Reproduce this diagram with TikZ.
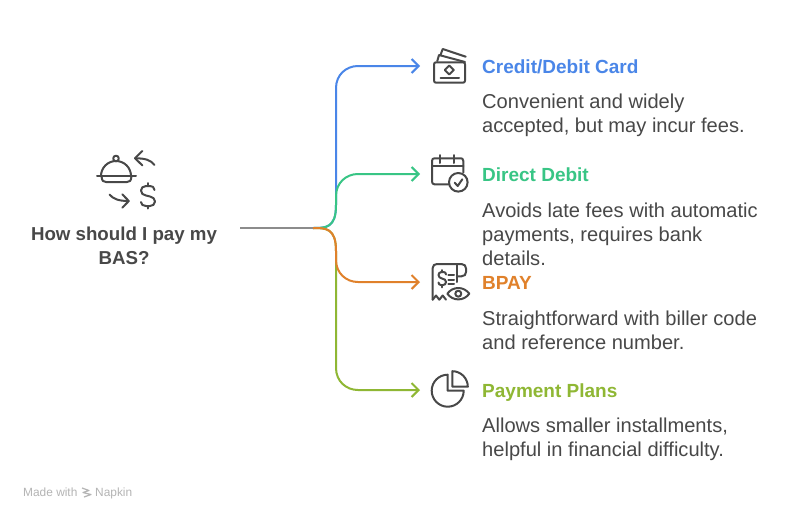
\documentclass[tikz,border=0pt]{standalone}
\usepackage{fontspec}
\setmainfont{Liberation Sans}
\usetikzlibrary{arrows.meta}
\definecolor{cblue}{HTML}{4A86E8}
\definecolor{cgreen}{HTML}{38C585}
\definecolor{corange}{HTML}{E0812B}
\definecolor{clime}{HTML}{8FB734}
\definecolor{cgray}{HTML}{8C8C8C}
\definecolor{cink}{HTML}{484848}
\definecolor{cmark}{HTML}{B4B4B4}
\tikzset{
  link/.style={line width=2pt,-{Straight Barb[length=7pt,width=14pt,line width=2pt]}},
  icon/.style={draw=cink,line width=2pt,line cap=round,line join=round},
  heading/.style={anchor=base west,inner sep=0pt,font=\fontsize{19}{24}\selectfont\bfseries},
  body/.style={anchor=west,inner sep=0pt,align=left,text=cink,font=\fontsize{20.1}{24}\selectfont},
  rootlabel/.style={anchor=center,inner sep=0pt,align=center,text=cink,font=\fontsize{18.7}{24}\selectfont\bfseries},
  brandmark/.style={anchor=base west,inner sep=0pt,text=cmark,font=\fontsize{11.9}{13}\selectfont}
}
\begin{document}
\begin{tikzpicture}[x=1pt,y=-1pt]
\useasboundingbox (0,0) rectangle (792,520);
\fill[white] (0,0) rectangle (792,520);
% anchors
\coordinate (start) at (240,228);
\coordinate (fork) at (313,228);
\coordinate (upper) at (336,205);
\coordinate (lower) at (336,251);
\coordinate (tcard) at (420,66);
\coordinate (tdebit) at (420,174);
\coordinate (tbpay) at (420,282);
\coordinate (tplan) at (420,390);
% connectors
\draw[link,cblue] (fork) .. controls (326,228) and (upper|-fork) .. (upper) -- (336,88) .. controls (336,75) and (346,66) .. (358,66) -- (tcard);
\draw[link,cgreen] (fork) .. controls (326,228) and (upper|-fork) .. (upper) -- (336,196) .. controls (336,183) and (346,174) .. (358,174) -- (tdebit);
\draw[link,clime] (fork) .. controls (326,228) and (lower|-fork) .. (lower) -- (336,368) .. controls (336,381) and (346,390) .. (358,390) -- (tplan);
\draw[link,corange] (fork) .. controls (326,228) and (lower|-fork) .. (lower) -- (336,260) .. controls (336,273) and (346,282) .. (358,282) -- (tbpay);
\draw[line width=2pt,cgray] (start) -- (fork);
% texts
\node[rootlabel] (root) at (124,246) {How should I pay my\\BAS?};
\node[heading,text=cblue] (h1) at (482,73) {Credit/Debit Card};
\node[body] (b1) at (482,115.5) {Convenient and widely\\accepted, but may incur fees.};
\node[heading,text=cgreen] (h2) at (482,181) {Direct Debit};
\node[body] (b2) at (482,234) {Avoids late fees with automatic\\payments, requires bank\\details.};
\node[heading,text=corange] (h3) at (482,289) {BPAY};
\node[body] (b3) at (482,330) {Straightforward with biller code\\and reference number.};
\node[heading,text=clime] (h4) at (482,397) {Payment Plans};
\node[body] (b4) at (482,439.5) {Allows smaller installments,\\helpful in financial difficulty.};
\node[brandmark] (m1) at (23,496) {Made with};
\node[brandmark] (m2) at (95,496) {Napkin};
\draw[cmark,line width=1.2pt,line join=round] (82,488) -- (89,490.5) -- (83,492.5) -- (91,494.5) -- (84,497);
% root icon
\draw[icon] (97,176) -- (136,176);
\draw[icon] (101,176) arc (180:360:15);
\draw[icon] (116,158.5) circle (2.8);
\draw[icon] (101.5,176) .. controls (102,181) and (103,182) .. (106,182) -- (127,182) .. controls (130,182) and (131,181) .. (131.5,176);
\draw[icon] (154.5,165) .. controls (151,160) and (145,158.3) .. (135.5,158.3);
\draw[icon] (142.3,151) -- (135,158.3) -- (142.3,165.3);
\draw[icon] (109.5,194.5) .. controls (113,199) and (119,201) .. (128.5,201);
\draw[icon] (122.3,194.3) -- (128.8,201) -- (122.3,207.7);
\draw[icon] (154.5,190) .. controls (154.5,187) and (152,186) .. (150,186) -- (146,186) .. controls (143,186) and (141,188) .. (141,190.5) .. controls (141,193.5) and (143,195) .. (146,195.5) -- (150,196.5) .. controls (153,197) and (155,199) .. (155,201.5) .. controls (155,204.5) and (152.5,206) .. (150,206) -- (146,206) .. controls (143,206) and (141,204.5) .. (141,202);
\draw[icon] (148,183) -- (148,186) (148,206) -- (148,208.5);
% card icon
\draw[icon] (434,64.3) .. controls (434,63) and (435,62.3) .. (436,62.3) -- (463,62.3) .. controls (464,62.3) and (465,63) .. (465,64.3) -- (465,80.7) .. controls (465,82) and (464,82.7) .. (463,82.7) -- (436,82.7) .. controls (435,82.7) and (434,82) .. (434,80.7) -- cycle;
\draw[icon] (449.3,65.5) -- (453.8,70) -- (449.3,74.5) -- (444.8,70) -- cycle;
\draw[icon] (440.5,77.7) -- (459,77.7);
\draw[icon] (437.3,61) -- (439,55) -- (465,62);
\draw[icon] (440.7,54.5) -- (442.7,49) -- (465.7,56.7);
% calendar icon
\draw[icon] (463.3,172.5) -- (463.3,161) .. controls (463.3,159) and (462,158.3) .. (461,158.3) -- (434.5,158.3) .. controls (433,158.3) and (432,159) .. (432,161) -- (432,181.5) .. controls (432,183.5) and (433,184.3) .. (434.5,184.3) -- (448.5,184.3);
\draw[icon] (432,166) -- (463.3,166);
\draw[icon] (440,155) -- (440,163) (454.3,155) -- (454.3,163);
\draw[icon] (458.3,182.3) circle (9.3);
\draw[icon] (454.7,182.7) -- (457.7,186) -- (462.3,179.3);
% receipt icon
\draw[icon] (432.7,299.7) -- (432.7,268) .. controls (432.7,265.5) and (434.5,264) .. (437,264) -- (461.5,264) .. controls (464.5,264) and (466,266) .. (466,268.5) -- (466,272) .. controls (466,274.5) and (464.5,276.3) .. (461.5,276.3) -- (457.3,276.3);
\draw[icon] (457.3,264) -- (457.3,282);
\draw[icon] (432.7,299.7) -- (436,295.5) -- (439.3,299.7) -- (442.7,295.5) -- (446,299.7);
\draw[icon] (448.3,275) -- (454,275) (448.3,279.7) -- (454,279.7) (448.3,284) -- (454,284);
\draw[icon] (446,274.5) .. controls (446,272.8) and (445,272) .. (443.5,272) -- (441.5,272) .. controls (439.5,272) and (438.5,273.5) .. (438.5,275) .. controls (438.5,277) and (440,278) .. (442,278.5) .. controls (444.5,279) and (446,280) .. (446,282) .. controls (446,284) and (444.5,285) .. (443,285) -- (441,285) .. controls (439.5,285) and (438.5,284) .. (438.5,282.5);
\draw[icon] (442.3,270) -- (442.3,272) (442.3,285) -- (442.3,287.3);
\draw[icon] (447.3,293.7) .. controls (450,290) and (454,288) .. (458.3,288) .. controls (462.6,288) and (466.6,290) .. (469.3,293.7) .. controls (466.6,297.4) and (462.6,299.4) .. (458.3,299.4) .. controls (454,299.4) and (450,297.4) .. (447.3,293.7) -- cycle;
\draw[icon] (458.3,293.7) circle (3);
% pie icon
\draw[icon] (447.7,390.7) -- (447.7,374.7) arc (-90:-360:16) -- cycle;
\draw[icon] (452.3,371.2) -- (452.3,386.7) -- (467.8,386.7) arc (0:-90:15.5) -- cycle;
\end{tikzpicture}
\end{document}
